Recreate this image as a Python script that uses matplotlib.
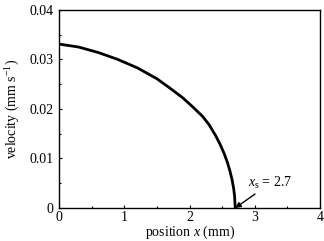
import matplotlib
matplotlib.use("Agg")
import matplotlib.pyplot as plt
from matplotlib.ticker import MultipleLocator

plt.rcParams["font.family"] = "Liberation Serif"
plt.rcParams["mathtext.fontset"] = "custom"
plt.rcParams["mathtext.rm"] = "Liberation Serif"
plt.rcParams["mathtext.it"] = "Liberation Serif:italic"

# values
position = [0.0, 0.3, 0.6, 0.9, 1.2, 1.5, 1.7, 1.9, 2.05, 2.2, 2.3, 2.4, 2.47, 2.53, 2.58,
            2.62, 2.65, 2.675, 2.69, 2.7]
velocity = [0.0331, 0.0325, 0.0314, 0.0300, 0.0283, 0.0261, 0.0242, 0.0222, 0.0204, 0.0185,
            0.0168, 0.0146, 0.0128, 0.0110, 0.0092, 0.0074, 0.0058, 0.0040, 0.0024, 0.0]
xs = 2.7
xticks = [0, 1, 2, 3, 4]
yticks = [0, 0.01, 0.02, 0.03, 0.04]
ylabels = ["0", "0.01", "0.02", "0.03", "0.04"]

fig = plt.figure(figsize=(3.24, 2.41), dpi=100)
ax = fig.add_axes([0.182, 0.137, 0.806, 0.822])
ax.plot(position, velocity, color="black", lw=2, solid_joinstyle="round")

ax.set_xticks(xticks)
ax.set_yticks(yticks, ylabels)
ax.xaxis.set_minor_locator(MultipleLocator(0.5))
ax.yaxis.set_minor_locator(MultipleLocator(0.005))
ax.set_xlim(0, 4)
ax.set_ylim(0, 0.04)
ax.tick_params(which="both", direction="in", labelsize=10)
ax.tick_params(axis="x", pad=2)
ax.tick_params(axis="y", pad=4)
ax.tick_params(which="major", length=2.5, width=0.8)
ax.tick_params(which="minor", length=1.5, width=0.8)
for s in ax.spines.values():
    s.set_linewidth(1)

ax.set_xlabel(r"position $x$ (mm)", fontsize=10, labelpad=0)
ax.set_ylabel(r"velocity (mm s$^{-1}$)", fontsize=10, labelpad=5)

ax.annotate(r"$x_{\mathrm{s}}$ = 2.7", xy=(xs, 0), xytext=(2.9, 0.005), fontsize=10,
            va="center", ha="left",
            arrowprops=dict(arrowstyle="-|>", color="black", lw=1, mutation_scale=8,
                            shrinkA=0, shrinkB=0))

fig.savefig("out.png", dpi=100)
